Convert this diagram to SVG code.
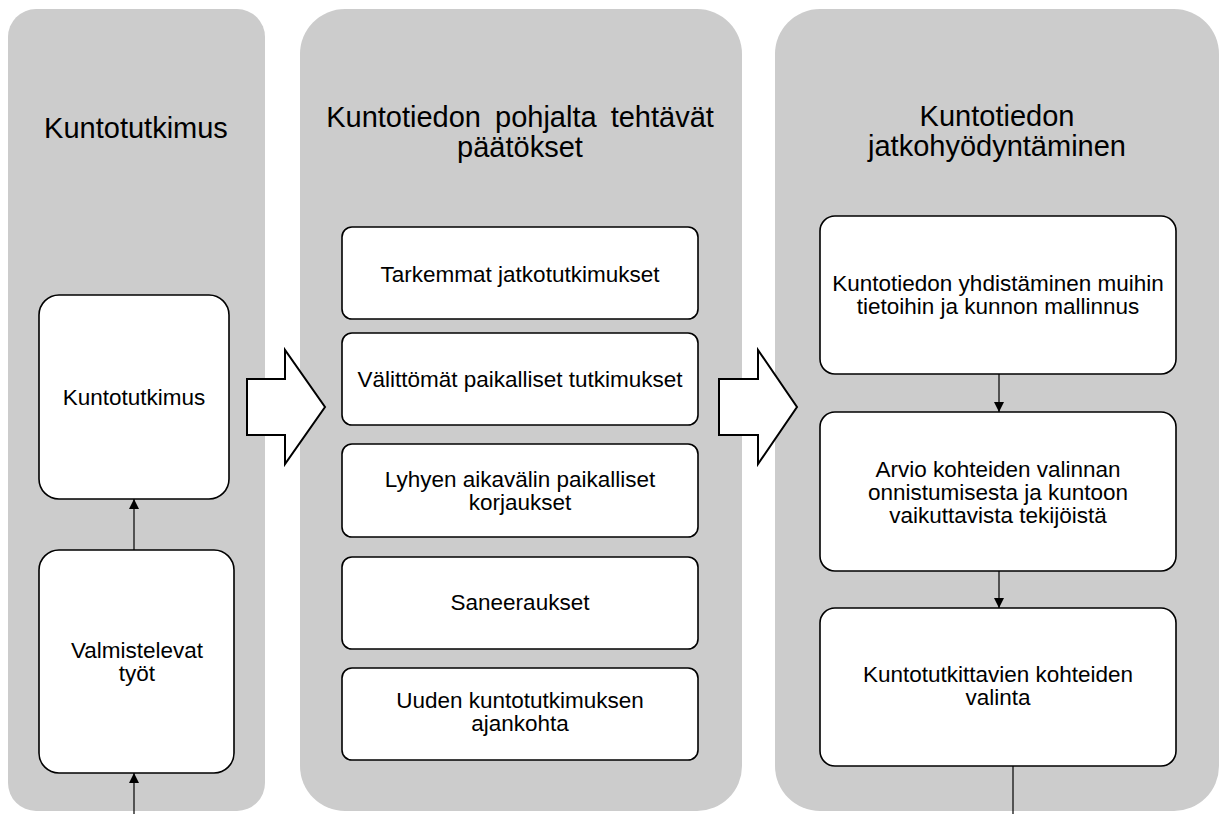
<svg xmlns="http://www.w3.org/2000/svg" width="1229" height="814" viewBox="0 0 1229 814">
<style>
.panel{fill:#cccccc;stroke:none}
.box{fill:#ffffff;stroke:#000000;stroke-width:1.6}
.barrow{fill:#ffffff;stroke:#000000;stroke-width:2;stroke-linejoin:miter}
.title{font-family:"Liberation Sans",Arial,sans-serif;font-size:29px;fill:#000000;text-anchor:middle}
.lbl{font-family:"Liberation Sans",Arial,sans-serif;font-size:22.5px;fill:#000000;text-anchor:middle}
.conn{stroke:#000000;stroke-width:1.2;fill:none}
</style>
<defs>
<marker id="ah" viewBox="0 0 10 10" refX="10" refY="5" markerWidth="10" markerHeight="11" markerUnits="userSpaceOnUse" orient="auto">
<path d="M0,0 L10,5 L0,10 z" fill="#000000"/>
</marker>
</defs>
<rect width="1229" height="814" fill="#ffffff"/>
<g id="panel-kuntotutkimus">
<rect class="panel" x="8" y="9" width="257" height="802" rx="28" ry="28"/>
<text class="title" x="136" y="138">Kuntotutkimus</text>
</g>
<g id="panel-paatokset">
<rect class="panel" x="300" y="9" width="442" height="802" rx="45" ry="45"/>
<text class="title" x="520" y="127" word-spacing="6">Kuntotiedon pohjalta tehtävät</text>
<text class="title" x="520" y="157">päätökset</text>
</g>
<g id="panel-jatkohyodyntaminen">
<rect class="panel" x="775" y="9" width="444" height="802" rx="45" ry="45"/>
<text class="title" x="997" y="126">Kuntotiedon</text>
<text class="title" x="997" y="156">jatkohyödyntäminen</text>
</g>
<g id="arrow-1">
<polygon class="barrow" points="247,379 285,379 285,350 325,407 285,464 285,435 247,435"/>
</g>
<g id="arrow-2">
<polygon class="barrow" points="719,379 758,379 758,350 797,407 758,464 758,435 719,435"/>
</g>
<g id="connectors">
<line class="conn" x1="134" y1="550" x2="134" y2="499" marker-end="url(#ah)"/>
<line class="conn" x1="134" y1="814" x2="134" y2="773" marker-end="url(#ah)"/>
<line class="conn" x1="999" y1="374" x2="999" y2="412" marker-end="url(#ah)"/>
<line class="conn" x1="999" y1="571" x2="999" y2="608" marker-end="url(#ah)"/>
<line class="conn" x1="1013" y1="766" x2="1013" y2="814"/>
</g>
<g id="node-kuntotutkimus">
<rect class="box" x="39" y="295" width="190" height="204" rx="20" ry="20"/>
<text class="lbl" x="134" y="405">Kuntotutkimus</text>
</g>
<g id="node-valmistelevat">
<rect class="box" x="39" y="550" width="195" height="223" rx="20" ry="20"/>
<text class="lbl" x="137" y="658">Valmistelevat</text>
<text class="lbl" x="137" y="681">työt</text>
</g>
<g id="node-tarkemmat">
<rect class="box" x="342" y="227" width="356" height="92" rx="10" ry="10"/>
<text class="lbl" x="520" y="282">Tarkemmat jatkotutkimukset</text>
</g>
<g id="node-valittomat">
<rect class="box" x="342" y="333" width="356" height="92" rx="10" ry="10"/>
<text class="lbl" x="520" y="387">Välittömät paikalliset tutkimukset</text>
</g>
<g id="node-lyhyen">
<rect class="box" x="342" y="444" width="356" height="93" rx="10" ry="10"/>
<text class="lbl" x="520" y="487">Lyhyen aikavälin paikalliset</text>
<text class="lbl" x="520" y="510">korjaukset</text>
</g>
<g id="node-saneeraukset">
<rect class="box" x="342" y="557" width="356" height="92" rx="10" ry="10"/>
<text class="lbl" x="520" y="610">Saneeraukset</text>
</g>
<g id="node-uuden">
<rect class="box" x="342" y="668" width="356" height="92" rx="10" ry="10"/>
<text class="lbl" x="520" y="708">Uuden kuntotutkimuksen</text>
<text class="lbl" x="520" y="731">ajankohta</text>
</g>
<g id="node-yhdistaminen">
<rect class="box" x="820" y="216" width="356" height="158" rx="15" ry="15"/>
<text class="lbl" x="998" y="291">Kuntotiedon yhdistäminen muihin</text>
<text class="lbl" x="998" y="314">tietoihin ja kunnon mallinnus</text>
</g>
<g id="node-arvio">
<rect class="box" x="820" y="412" width="356" height="159" rx="15" ry="15"/>
<text class="lbl" x="998" y="477">Arvio kohteiden valinnan</text>
<text class="lbl" x="998" y="500">onnistumisesta ja kuntoon</text>
<text class="lbl" x="998" y="523">vaikuttavista tekijöistä</text>
</g>
<g id="node-valinta">
<rect class="box" x="820" y="608" width="356" height="158" rx="15" ry="15"/>
<text class="lbl" x="998" y="682">Kuntotutkittavien kohteiden</text>
<text class="lbl" x="998" y="705">valinta</text>
</g>
</svg>
